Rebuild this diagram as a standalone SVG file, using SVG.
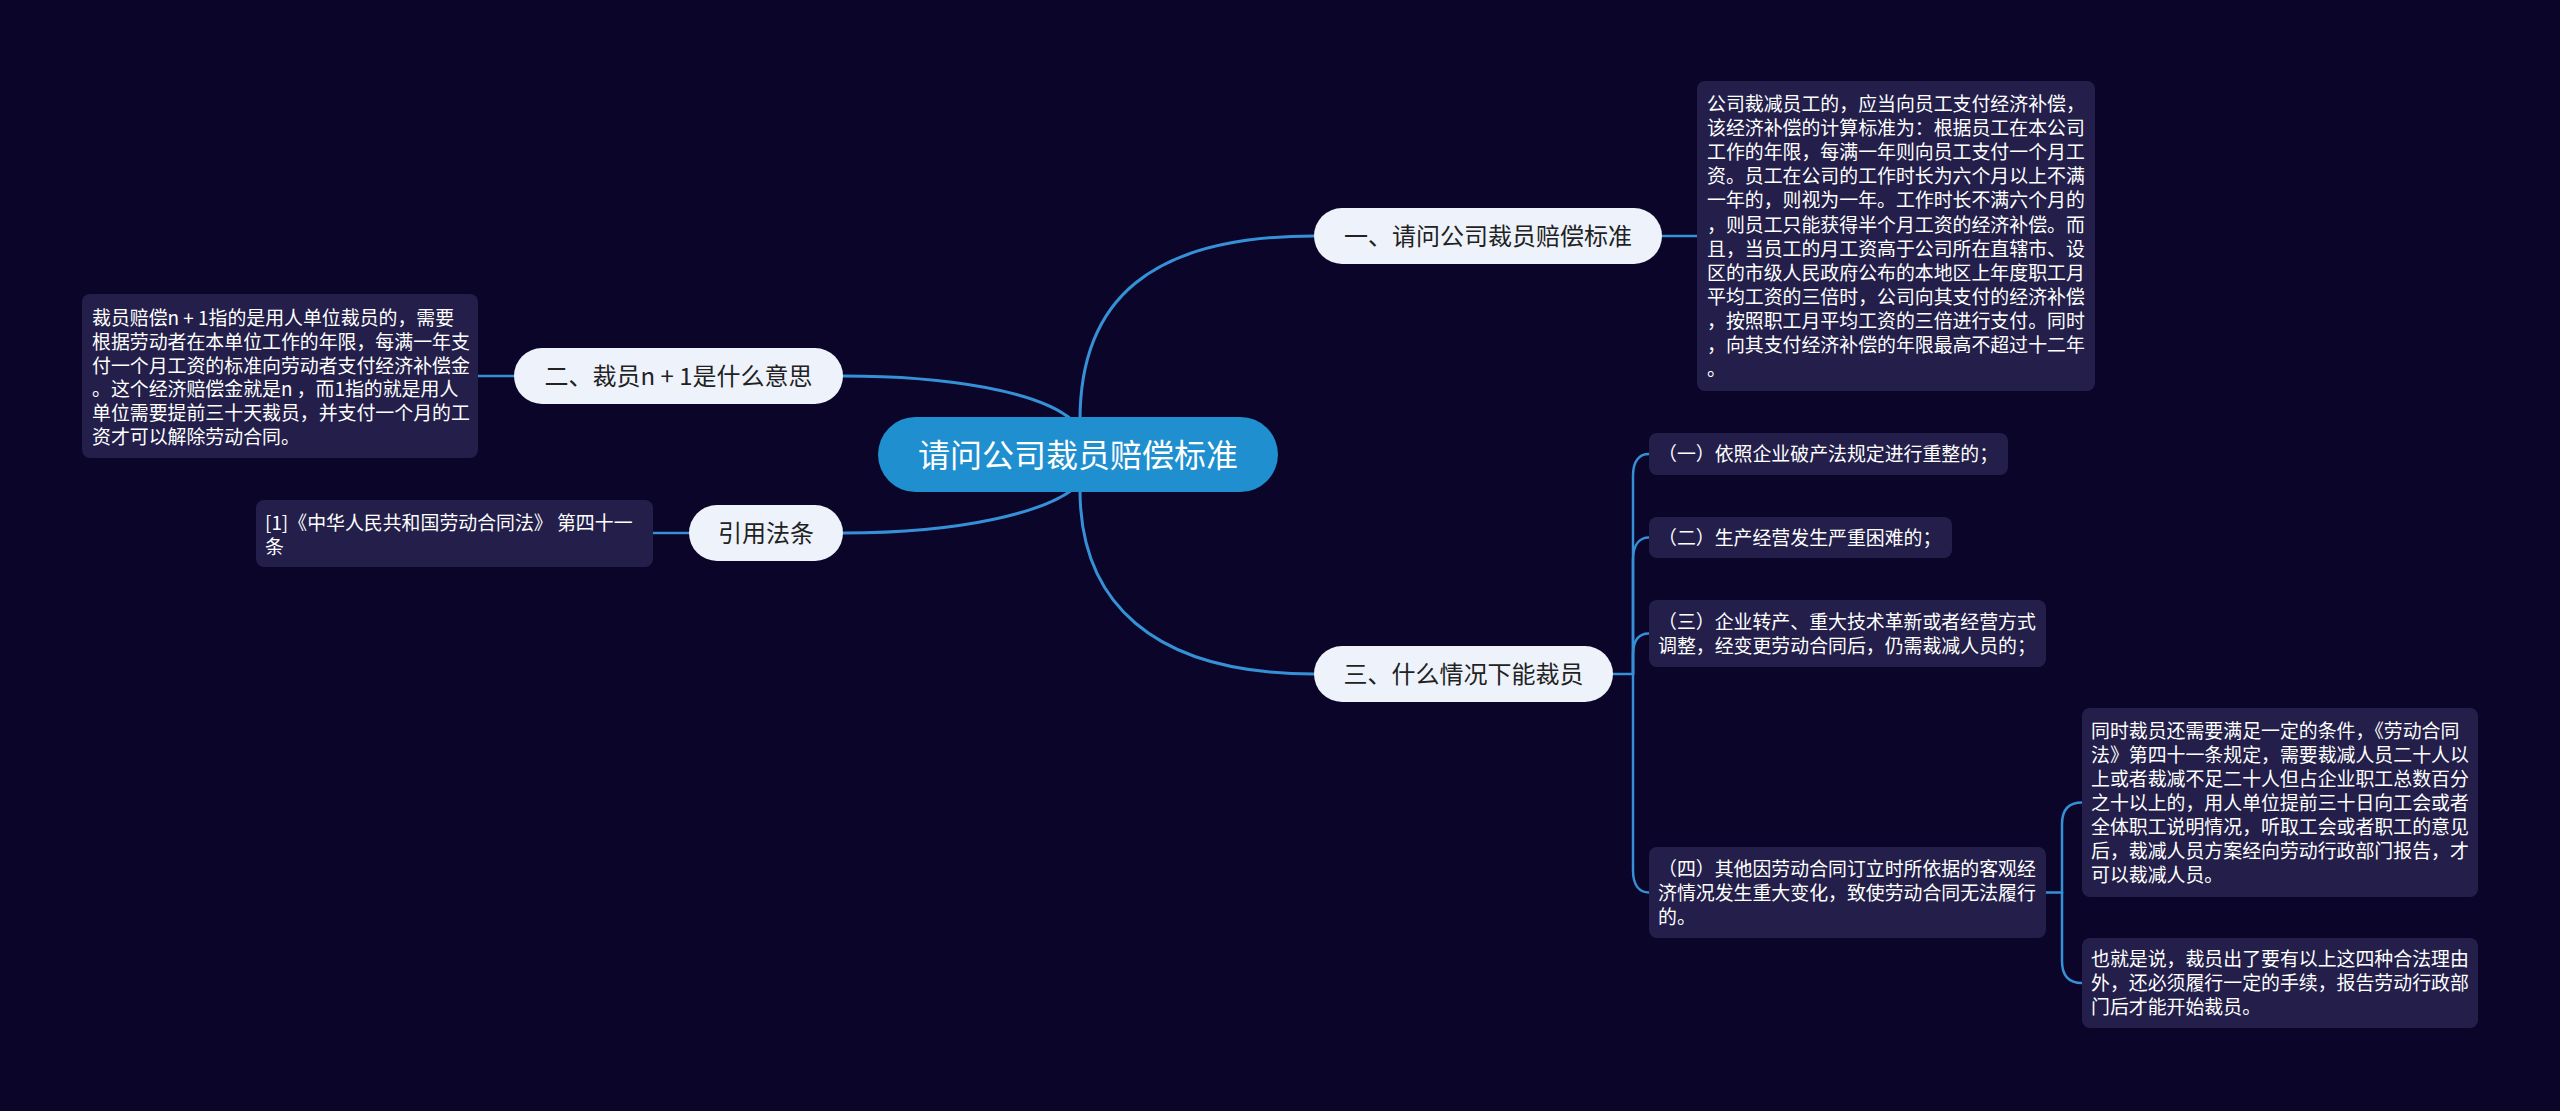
<svg xmlns="http://www.w3.org/2000/svg" width="2560" height="1111" viewBox="0 0 2560 1111">
<style>
.bg{fill:#0a0529}
.root{fill:#1f8fd0}
.rootT{fill:#ffffff;font-family:"Noto Sans CJK SC","Noto Sans",sans-serif;font-size:32px;text-anchor:middle}
.pill{fill:#eef3fb}
.pillT{fill:#222222;font-family:"Noto Sans CJK SC","Noto Sans",sans-serif;font-size:24px;text-anchor:middle}
.leaf{fill:#231f4a}
.leafT{fill:#ffffff;font-family:"Noto Sans CJK SC","Noto Sans",sans-serif;font-size:18.9px}
.c1{fill:none;stroke:#3590d6;stroke-width:3;stroke-linecap:round}
.c2{fill:none;stroke:#3590d6;stroke-width:2.5;stroke-linecap:round}
</style>
<rect class="bg" x="0" y="0" width="2560" height="1111"/>
<g id="connectors">
<path class="c1" d="M1080,420 C1080,300 1150,236 1314,236"/>
<path class="c1" d="M1080,490 C1080,600 1150,674 1314,674"/>
<path class="c1" d="M1072,420 C1040,392 950,376 843,376"/>
<path class="c1" d="M1072,490 C1045,510 970,533 843,533"/>
<path class="c2" d="M1662,236 H1697"/>
<path class="c2" d="M478,376 H514"/>
<path class="c2" d="M653,533 H689"/>
<path class="c2" d="M1613,674 H1633"/>
<path class="c2" d="M1633,674 V476 C1633,460 1640,454 1649,454"/>
<path class="c2" d="M1633,674 V560 C1633,544 1640,537.5 1649,537.5"/>
<path class="c2" d="M1633,674 V655 C1633,639 1640,633.5 1649,633.5"/>
<path class="c2" d="M1633,674 V870 C1633,886 1640,892.5 1649,892.5"/>
<path class="c2" d="M2046,892.5 H2062"/>
<path class="c2" d="M2062,892.5 V824 C2062,808 2070,802.5 2082,802.5"/>
<path class="c2" d="M2062,892.5 V961 C2062,977 2070,983 2082,983"/>
</g>
<g id="root">
<rect class="root" x="878" y="417" width="400" height="75" rx="37.5"/>
<text class="rootT" x="1078" y="467">请问公司裁员赔偿标准</text>
</g>
<g id="b1">
<rect class="pill" x="1314" y="208" width="348" height="56" rx="28"/>
<text class="pillT" x="1488" y="245">一、请问公司裁员赔偿标准</text>
</g>
<g id="b2">
<rect class="pill" x="514" y="348" width="329" height="56" rx="28"/>
<text class="pillT" x="678.5" y="385">二、裁员n + 1是什么意思</text>
</g>
<g id="b3">
<rect class="pill" x="689" y="505" width="154" height="56" rx="28"/>
<text class="pillT" x="766" y="542">引用法条</text>
</g>
<g id="b4">
<rect class="pill" x="1314" y="646" width="299" height="56" rx="28"/>
<text class="pillT" x="1463.5" y="683">三、什么情况下能裁员</text>
</g>
<g id="leaf1">
<rect class="leaf" x="1697" y="81" width="398" height="310" rx="8"/>
<text class="leafT">
<tspan x="1707" y="111">公司裁减员工的，应当向员工支付经济补偿，</tspan>
<tspan x="1707" y="135.1">该经济补偿的计算标准为：根据员工在本公司</tspan>
<tspan x="1707" y="159.2">工作的年限，每满一年则向员工支付一个月工</tspan>
<tspan x="1707" y="183.3">资。员工在公司的工作时长为六个月以上不满</tspan>
<tspan x="1707" y="207.4">一年的，则视为一年。工作时长不满六个月的</tspan>
<tspan x="1707" y="231.5">，则员工只能获得半个月工资的经济补偿。而</tspan>
<tspan x="1707" y="255.6">且，当员工的月工资高于公司所在直辖市、设</tspan>
<tspan x="1707" y="279.7">区的市级人民政府公布的本地区上年度职工月</tspan>
<tspan x="1707" y="303.8">平均工资的三倍时，公司向其支付的经济补偿</tspan>
<tspan x="1707" y="327.9">，按照职工月平均工资的三倍进行支付。同时</tspan>
<tspan x="1707" y="352">，向其支付经济补偿的年限最高不超过十二年</tspan>
<tspan x="1707" y="376.1">。</tspan>
</text>
</g>
<g id="leaf2">
<rect class="leaf" x="82" y="294" width="396" height="164" rx="8"/>
<text class="leafT">
<tspan x="92" y="325">裁员赔偿n + 1指的是用人单位裁员的，需要</tspan>
<tspan x="92" y="348.8">根据劳动者在本单位工作的年限，每满一年支</tspan>
<tspan x="92" y="372.6">付一个月工资的标准向劳动者支付经济补偿金</tspan>
<tspan x="92" y="396.4">。这个经济赔偿金就是n ，而1指的就是用人</tspan>
<tspan x="92" y="420.2">单位需要提前三十天裁员，并支付一个月的工</tspan>
<tspan x="92" y="444">资才可以解除劳动合同。</tspan>
</text>
</g>
<g id="leaf3">
<rect class="leaf" x="256" y="500" width="397" height="67" rx="8"/>
<text class="leafT">
<tspan x="265" y="529.5">[1]《中华人民共和国劳动合同法》 第四十一</tspan>
<tspan x="265" y="553.5">条</tspan>
</text>
</g>
<g id="c1">
<rect class="leaf" x="1649" y="433" width="359" height="42" rx="8"/>
<text class="leafT"><tspan x="1658" y="461">（一）依照企业破产法规定进行重整的；</tspan></text>
</g>
<g id="c2">
<rect class="leaf" x="1649" y="517" width="303" height="41" rx="8"/>
<text class="leafT"><tspan x="1658" y="544.5">（二）生产经营发生严重困难的；</tspan></text>
</g>
<g id="c3">
<rect class="leaf" x="1649" y="600" width="397" height="67" rx="8"/>
<text class="leafT">
<tspan x="1658" y="629">（三）企业转产、重大技术革新或者经营方式</tspan>
<tspan x="1658" y="653">调整，经变更劳动合同后，仍需裁减人员的；</tspan>
</text>
</g>
<g id="c4">
<rect class="leaf" x="1649" y="847" width="397" height="91" rx="8"/>
<text class="leafT">
<tspan x="1658" y="876">（四）其他因劳动合同订立时所依据的客观经</tspan>
<tspan x="1658" y="900">济情况发生重大变化，致使劳动合同无法履行</tspan>
<tspan x="1658" y="924">的。</tspan>
</text>
</g>
<g id="c4a">
<rect class="leaf" x="2082" y="708" width="396" height="189" rx="8"/>
<text class="leafT">
<tspan x="2091" y="738">同时裁员还需要满足一定的条件，《劳动合同</tspan>
<tspan x="2091" y="762">法》第四十一条规定，需要裁减人员二十人以</tspan>
<tspan x="2091" y="786">上或者裁减不足二十人但占企业职工总数百分</tspan>
<tspan x="2091" y="810">之十以上的，用人单位提前三十日向工会或者</tspan>
<tspan x="2091" y="834">全体职工说明情况，听取工会或者职工的意见</tspan>
<tspan x="2091" y="858">后，裁减人员方案经向劳动行政部门报告，才</tspan>
<tspan x="2091" y="882">可以裁减人员。</tspan>
</text>
</g>
<g id="c4b">
<rect class="leaf" x="2082" y="938" width="396" height="90" rx="8"/>
<text class="leafT">
<tspan x="2091" y="966">也就是说，裁员出了要有以上这四种合法理由</tspan>
<tspan x="2091" y="990">外，还必须履行一定的手续，报告劳动行政部</tspan>
<tspan x="2091" y="1014">门后才能开始裁员。</tspan>
</text>
</g>
</svg>
